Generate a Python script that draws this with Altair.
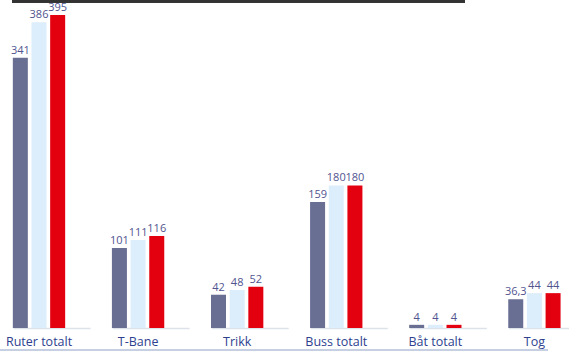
import altair as alt
import pandas as pd

categories = ["Ruter totalt", "T-Bane", "Trikk", "Buss totalt", "Båt totalt", "Tog"]
series = ["2019", "2023", "2024"]
values_a = [341, 101, 42, 159, 4, 36.3]
values_b = [386, 111, 48, 180, 4, 44]
values_c = [395, 116, 52, 180, 4, 44]
colors = ["#696e93", "#dcedfb", "#e3000f"]

rows = []
for s, vals in zip(series, [values_a, values_b, values_c]):
    for c, v in zip(categories, vals):
        lbl = (f"{v:g}").replace(".", ",")
        rows.append({"kategori": c, "serie": s, "verdi": v, "etikett": lbl})
df = pd.DataFrame(rows)
base_df = pd.DataFrame({"kategori": categories})

xscale = alt.Scale(domain=categories, range=[-10.5, 584], paddingInner=0, paddingOuter=0)
yscale = alt.Scale(domain=[0, 414], nice=False)
offscale = alt.Scale(domain=series, range=[21.5, 77.5], paddingInner=0, paddingOuter=0)


def xenc():
    return alt.X("kategori:N", scale=xscale, sort=categories, axis=None)


def offenc():
    return alt.XOffset("serie:N", scale=offscale, sort=series)


bars = alt.Chart(df).mark_bar(width=15).encode(
    x=xenc(),
    xOffset=offenc(),
    y=alt.Y("verdi:Q", scale=yscale, axis=None),
    color=alt.Color("serie:N", scale=alt.Scale(domain=series, range=colors), legend=None),
)

text = alt.Chart(df).mark_text(baseline="bottom", dy=-2, fontSize=11, color="#50548f",
                               font="Open Sans").encode(
    x=xenc(),
    xOffset=offenc(),
    y=alt.Y("verdi:Q", scale=yscale, axis=None),
    text="etikett:N",
)

cat_labels = alt.Chart(base_df).mark_text(baseline="middle", fontSize=12.5, color="#2e3f8f",
                                          font="Open Sans").encode(
    x=xenc(),
    y=alt.value(342),
    text="kategori:N",
)

baseline = alt.Chart(base_df).mark_bar(width=77, height=1.5, xOffset=13, color="#dde2ea").encode(
    x=xenc(),
    y=alt.value(328.5),
)

top_line = alt.Chart(base_df).mark_rule(color="#333333", strokeWidth=3).encode(
    x=alt.value(12), x2=alt.value(465), y=alt.value(1)
)

bottom_line = alt.Chart(base_df).mark_rule(color="#c6d0e2", strokeWidth=2).encode(
    x=alt.value(0), x2=alt.value(548), y=alt.value(350)
)

chart = alt.layer(baseline, bars, text, cat_labels, top_line, bottom_line).properties(
    width=569, height=328,
    padding={"left": 0, "top": 0, "right": 0, "bottom": 25},
    autosize=alt.AutoSizeParams(type="none")
).configure_view(stroke=None)

chart.save("out.html", embed_options={"renderer": "svg", "actions": False})
